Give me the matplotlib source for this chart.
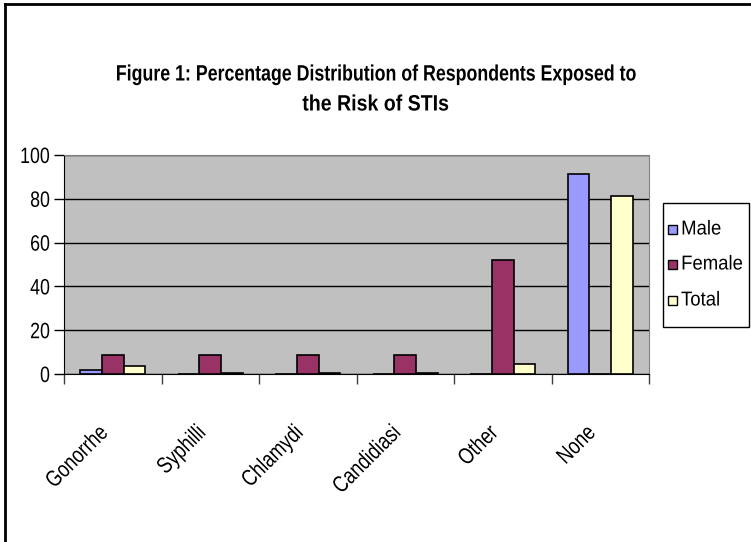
import numpy as np
import matplotlib.pyplot as plt
from matplotlib.lines import Line2D
from matplotlib.patches import Rectangle
from matplotlib.patheffects import AbstractPathEffect
from matplotlib.transforms import Affine2D

categories = ['Gonorrhe', 'Syphilli', 'Chlamydi', 'Candidiasi', 'Other', 'None']
male = [2, 0, 0, 0, 0, 91.5]
female = [8.5, 8.5, 8.5, 8.5, 52, 0]
total = [3.5, 0.5, 0.5, 0.5, 4.5, 81.5]
series = ['Male', 'Female', 'Total']
colors = ['#9999FF', '#993366', '#FFFFCC']

plt.rcParams['font.family'] = ['Liberation Sans', 'DejaVu Sans']


class Squeeze(AbstractPathEffect):
    """Narrow the glyphs horizontally (no condensed font installed)."""

    def __init__(self, sx=0.8, anchor='center'):
        super().__init__()
        self.sx = sx
        self.anchor = anchor

    def draw_path(self, renderer, gc, tpath, affine, rgbFace=None):
        ext = tpath.get_extents()
        if self.anchor == 'left':
            x0 = ext.x0
        elif self.anchor == 'right':
            x0 = ext.x1
        else:
            x0 = (ext.x0 + ext.x1) / 2
        t = Affine2D().translate(-x0, 0).scale(self.sx, 1).translate(x0, 0) + affine
        renderer.draw_path(gc, tpath, t, rgbFace)


SX = 0.8
W, H = 751, 542

fig = plt.figure(figsize=(W / 100, H / 100), dpi=100)
ax = fig.add_axes([64 / W, 1 - 374 / H, 585 / W, 219 / H])
ax.set_facecolor('#C0C0C0')

x = np.arange(len(categories))
w = 0.222
for i, (vals, c) in enumerate(zip([male, female, total], colors)):
    ax.bar(x + (i - 1) * w, vals, w, color=c, edgecolor='black', linewidth=1.2,
           label=series[i], zorder=3)

ax.set_xlim(-0.5, len(categories) - 0.5)
ax.set_ylim(0, 100)
ax.set_yticks(range(0, 101, 20))
ax.yaxis.grid(True, color='black', linewidth=1)
ax.set_axisbelow(True)
ax.tick_params(axis='y', direction='out', length=7, width=1, labelsize=16, pad=3)
for t in ax.get_yticklabels():
    t.set_path_effects([Squeeze(SX, 'right')])

ax.set_xticks(np.arange(len(categories) + 1) - 0.5)
ax.set_xticklabels([])
ax.tick_params(axis='x', direction='out', length=7, width=1, color='#404040')
for xi, lab in zip(x, categories):
    ax.text(xi, -21.5, lab, rotation=45, ha='right', va='top', fontsize=16.5,
            path_effects=[Squeeze(SX, 'right')])

for s in ['top', 'right']:
    ax.spines[s].set_color('#808080')
for s in ['left', 'bottom']:
    ax.spines[s].set_color('black')

# legend box drawn by hand so it fits the narrow text
fig.add_artist(Rectangle((663 / W, 1 - 327 / H), 86 / W, 124 / H, transform=fig.transFigure,
                         facecolor='white', edgecolor='black', linewidth=1))
for name, c, yc in zip(series, colors, [229, 264, 300]):
    fig.add_artist(Rectangle((668 / W, 1 - (yc + 4.5) / H), 9 / W, 9 / H,
                             transform=fig.transFigure, facecolor=c,
                             edgecolor='black', linewidth=1))
    fig.text(681 / W, 1 - yc / H, name, ha='left', va='center', fontsize=14.5,
             path_effects=[Squeeze(0.92, 'left')])

fig.text(0.5, 1 - 75 / H, 'Figure 1: Percentage Distribution of Respondents Exposed to',
         ha='center', va='center', fontsize=16, fontweight='bold',
         path_effects=[Squeeze(SX)])
fig.text(0.5, 1 - 105 / H, 'the Risk of STIs', ha='center', va='center',
         fontsize=16, fontweight='bold', path_effects=[Squeeze(0.88)])

fig.add_artist(Line2D([5 / W, 5 / W], [0, 1 - 4 / H], color='black', linewidth=2))
fig.add_artist(Line2D([5 / W, 1], [1 - 4 / H, 1 - 4 / H], color='black', linewidth=2))

fig.savefig('out.png', dpi=100)
